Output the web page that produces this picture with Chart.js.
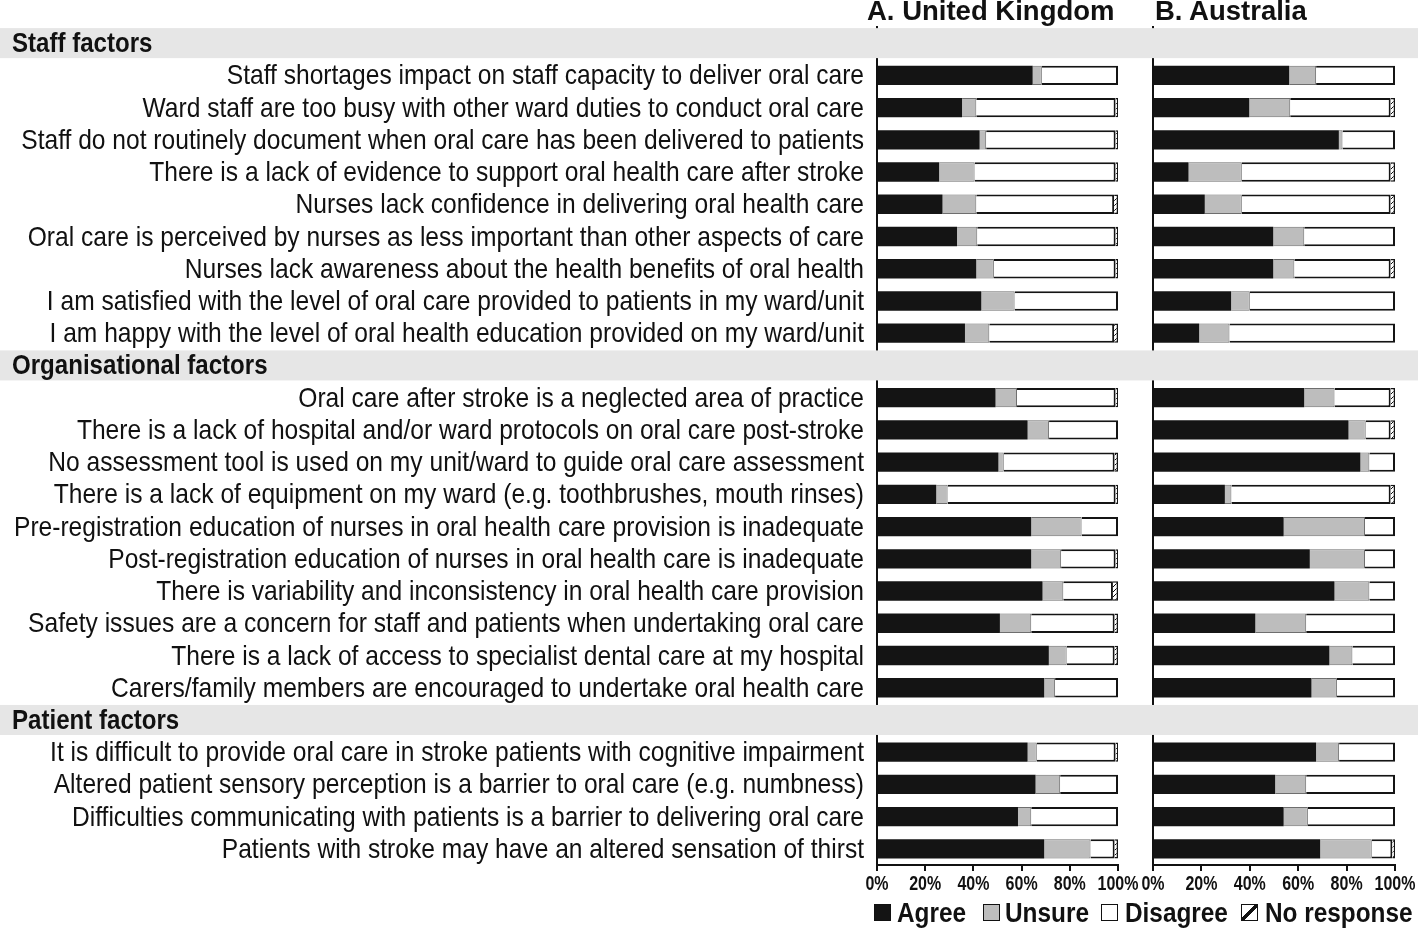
<!DOCTYPE html>
<html>
<head>
<meta charset="utf-8">
<script src="https://cdn.jsdelivr.net/npm/chart.js@4.4.1/dist/chart.umd.min.js"></script>
<style>
  body { margin: 0; width: 1418px; height: 930px; position: relative; overflow: hidden; background: #fff;
         font-family: "Liberation Sans", Arial, sans-serif; color: #111; }
  #ukWrap { position: absolute; left: 0; top: 0; width: 1140px; height: 930px; }
  #auWrap { position: absolute; left: 1140px; top: 0; width: 278px; height: 930px; }
  .title { position: absolute; top: -3px; font-weight: 700; font-size: 27.5px; line-height: 28px; white-space: nowrap; z-index: 2; }
  .lgText { position: absolute; top: 899px; font-weight: 700; font-size: 28px; line-height: 28px; white-space: nowrap;
            transform: scaleX(0.87); transform-origin: left top; z-index: 2; }
  .lgBox { position: absolute; top: 904px; width: 15px; height: 15px; border: 1.5px solid #111; z-index: 2; }
</style>
</head>
<body>
<div class="title" style="left:867px">A. United Kingdom</div>
<div class="title" style="left:1155px">B. Australia</div>
<div id="ukWrap"><canvas id="uk"></canvas></div>
<div id="auWrap"><canvas id="au"></canvas></div>
<div class="lgBox" style="left:874px;background:#141414"></div>
<div class="lgText" style="left:897px">Agree</div>
<div class="lgBox" style="left:983px;background:#bdbdbd"></div>
<div class="lgText" style="left:1005px">Unsure</div>
<div class="lgBox" style="left:1101px;background:#fff"></div>
<div class="lgText" style="left:1125px">Disagree</div>
<div class="lgBox" style="left:1241px;background:linear-gradient(to bottom right,#fff 43%,#111 43%,#111 57%,#fff 57%)"></div>
<div class="lgText" style="left:1265px">No response</div>
<script>
const FONT = '"Liberation Sans", Arial, sans-serif';

const groups = ["Staff factors", "Organisational factors", "Patient factors"];
const staffLabels = [
    "Staff shortages impact on staff capacity to deliver oral care",
    "Ward staff are too busy with other ward duties to conduct oral care",
    "Staff do not routinely document when oral care has been delivered to patients",
    "There is a lack of evidence to support oral health care after stroke",
    "Nurses lack confidence in delivering oral health care",
    "Oral care is perceived by nurses as less important than other aspects of care",
    "Nurses lack awareness about the health benefits of oral health",
    "I am satisfied with the level of oral care provided to patients in my ward/unit",
    "I am happy with the level of oral health education provided on my ward/unit"
];
const orgLabels = [
    "Oral care after stroke is a neglected area of practice",
    "There is a lack of hospital and/or ward protocols on oral care post-stroke",
    "No assessment tool is used on my unit/ward to guide oral care assessment",
    "There is a lack of equipment on my ward (e.g. toothbrushes, mouth rinses)",
    "Pre-registration education of nurses in oral health care provision is inadequate",
    "Post-registration education of nurses in oral health care is inadequate",
    "There is variability and inconsistency in oral health care provision",
    "Safety issues are a concern for staff and patients when undertaking oral care",
    "There is a lack of access to specialist dental care at my hospital",
    "Carers/family members are encouraged to undertake oral health care"
];
const patientLabels = [
    "It is difficult to provide oral care in stroke patients with cognitive impairment",
    "Altered patient sensory perception is a barrier to oral care (e.g. numbness)",
    "Difficulties communicating with patients is a barrier to delivering oral care",
    "Patients with stroke may have an altered sensation of thirst"
];
const xTicks = [0, 20, 40, 60, 80, 100];

// A. United Kingdom (%), staff / organisational / patient order
const ukAgree    = [64.6, 35.3, 42.6, 25.8, 27.2, 33.2, 41.2, 43.3, 36.5,
                    49.2, 62.5, 50.4, 24.6, 64.0, 64.0, 68.7, 51.0, 71.3, 69.4,
                    62.5, 65.8, 58.5, 69.4];
const ukUnsure   = [3.8, 5.9, 2.7, 14.7, 14.0, 8.4, 7.3, 13.8, 10.1,
                    8.9, 8.9, 2.2, 4.7, 20.9, 12.4, 8.6, 13.0, 7.4, 4.5,
                    3.8, 10.2, 5.5, 19.2];
const ukDisagree = [31.6, 57.8, 53.7, 58.5, 57.2, 57.4, 50.5, 42.9, 51.8,
                    40.9, 28.6, 46.0, 69.7, 15.1, 22.6, 20.6, 34.6, 19.9, 26.1,
                    32.7, 24.0, 36.0, 10.0];
const ukNoResp   = [0, 1.0, 1.0, 1.0, 1.6, 1.0, 1.0, 0, 1.6,
                    1.0, 0, 1.4, 1.0, 0, 1.0, 2.1, 1.4, 1.4, 0,
                    1.0, 0, 0, 1.4];

// B. Australia (%)
const auAgree    = [56.3, 39.8, 76.8, 14.7, 21.4, 49.7, 49.7, 32.3, 19.1,
                    62.5, 80.8, 85.7, 29.7, 54.0, 64.8, 75.0, 42.3, 72.9, 65.5,
                    67.4, 50.5, 54.0, 69.1];
const auUnsure   = [11.1, 16.9, 1.5, 22.0, 15.3, 12.8, 8.7, 7.7, 12.5,
                    12.5, 7.1, 3.7, 2.7, 33.6, 22.8, 14.4, 21.0, 9.5, 10.5,
                    9.5, 12.8, 10.0, 21.3];
const auDisagree = [32.6, 41.5, 21.7, 61.5, 61.5, 37.5, 39.8, 60.0, 68.4,
                    23.2, 10.3, 10.6, 65.8, 12.4, 12.4, 10.6, 36.7, 17.6, 24.0,
                    23.1, 36.7, 36.0, 8.5];
const auNoResp   = [0, 1.8, 0, 1.8, 1.8, 0, 1.8, 0, 0,
                    1.8, 1.8, 0, 1.8, 0, 0, 0, 0, 0, 0,
                    0, 0, 0, 1.1];

const itemGroups = [staffLabels, orgLabels, patientLabels];

// rows: a header row (no bar) in front of every group
const rowLabels = [];
const headerRows = {};
itemGroups.forEach(function(items, g) {
    headerRows[rowLabels.length] = groups[g];
    rowLabels.push("");
    items.forEach(function(l) { rowLabels.push(l); });
});

function withHeaders(values) {
    const out = [];
    let k = 0;
    itemGroups.forEach(function(items) {
        out.push(null);
        items.forEach(function() {
            const v = values[k++];
            out.push(v === 0 ? null : v);
        });
    });
    return out;
}

function hatch() {
    const c = document.createElement("canvas");
    c.width = 5; c.height = 5;
    const ctx = c.getContext("2d");
    ctx.fillStyle = "#fff";
    ctx.fillRect(0, 0, 5, 5);
    ctx.strokeStyle = "#111";
    ctx.lineWidth = 1;
    ctx.beginPath();
    ctx.moveTo(0, 5); ctx.lineTo(5, 0);
    ctx.stroke();
    return ctx.createPattern(c, "repeat");
}

function makeDatasets(agree, unsure, disagree, noResp) {
    return [
        { label: "Agree", data: withHeaders(agree), backgroundColor: "#141414", borderColor: "#141414", borderWidth: 0 },
        { label: "Unsure", data: withHeaders(unsure), backgroundColor: "#bdbdbd", borderColor: "#6e6e6e", borderWidth: 1 },
        { label: "Disagree", data: withHeaders(disagree), backgroundColor: "#ffffff", borderColor: "#141414", borderWidth: 2 },
        { label: "No response", data: withHeaders(noResp), backgroundColor: hatch(), borderColor: "#141414", borderWidth: 1.5 }
    ];
}

// narrow-looking text: Liberation Sans squeezed horizontally
function squeezedText(ctx, text, x, y, font, align, sx) {
    ctx.save();
    ctx.translate(x, y);
    ctx.scale(sx, 1);
    ctx.font = font;
    ctx.textAlign = align;
    ctx.textBaseline = "alphabetic";
    ctx.fillStyle = "#111";
    ctx.fillText(text, 0, 0);
    ctx.restore();
}

// gray header bands, row labels and x tick labels
const textPlugin = {
    id: "texts",
    beforeDatasetsDraw(chart, args, opts) {
        const ctx = chart.ctx;
        const y = chart.scales.y;
        const x = chart.scales.x;
        ctx.save();
        Object.keys(headerRows).forEach(function(i) {
            const cy = y.getPixelForValue(Number(i));
            ctx.fillStyle = "#e6e6e6";
            ctx.fillRect(0, cy - 15, chart.width, 30);
            if (opts.labels) {
                squeezedText(ctx, headerRows[i], 12, cy + 9, "bold 28px " + FONT, "left", 0.86);
            }
        });
        if (opts.labels) {
            rowLabels.forEach(function(l, i) {
                if (!l) return;
                squeezedText(ctx, l, x.left - 13, y.getPixelForValue(i) + 9, "28px " + FONT, "right", 0.878);
            });
        }
        xTicks.forEach(function(v) {
            squeezedText(ctx, v + "%", x.getPixelForValue(v), x.top + 25, "bold 20px " + FONT, "center", 0.8);
        });
        ctx.restore();
    }
};

function makeChart(id, datasets, showLabels, axisLeft, padRight) {
    return new Chart(document.getElementById(id), {
        type: "bar",
        data: { labels: rowLabels, datasets: datasets },
        options: {
            indexAxis: "y",
            responsive: true,
            maintainAspectRatio: false,
            animation: false,
            layout: { padding: { top: 27, right: padRight, left: 0, bottom: 0 } },
            datasets: { bar: { barPercentage: 0.6, categoryPercentage: 1.0 } },
            plugins: {
                legend: { display: false },
                tooltip: { enabled: false },
                texts: { labels: showLabels }
            },
            scales: {
                x: {
                    stacked: true,
                    min: 0,
                    max: 100,
                    afterFit: function(scale) { scale.height = 65; },
                    grid: { drawOnChartArea: false, drawTicks: true, tickLength: 6, color: "#111", lineWidth: 2 },
                    border: { color: "#111", width: 2 },
                    ticks: { stepSize: 20, display: false }
                },
                y: {
                    stacked: true,
                    afterFit: function(scale) { scale.width = axisLeft; },
                    grid: { display: false, drawTicks: false },
                    border: { color: "#111", width: 2 },
                    ticks: { display: false, autoSkip: false }
                }
            }
        },
        plugins: [textPlugin]
    });
}

makeChart("uk", makeDatasets(ukAgree, ukUnsure, ukDisagree, ukNoResp), true, 877, 22);
makeChart("au", makeDatasets(auAgree, auUnsure, auDisagree, auNoResp), false, 13, 23);
</script>
</body>
</html>
